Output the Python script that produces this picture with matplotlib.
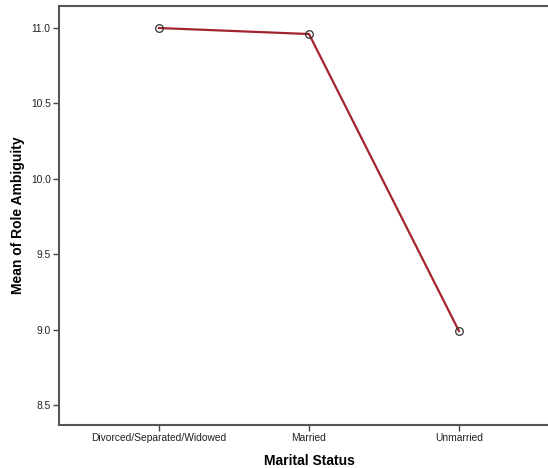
import matplotlib
matplotlib.use("Agg")
import matplotlib.pyplot as plt

categories = ["Divorced/Separated/Widowed", "Married", "Unmarried"]
means = [11.0, 10.96, 8.99]
y_ticks = [8.5, 9.0, 9.5, 10.0, 10.5, 11.0]

plt.rcParams["font.family"] = ["Liberation Sans", "DejaVu Sans"]

W, H, DPI = 548, 468, 100
fig = plt.figure(figsize=(W / DPI, H / DPI), dpi=DPI)
left, right, top, bottom = 59, 559, 6, 425
ax = fig.add_axes([left / W, 1 - bottom / H, (right - left) / W, (bottom - top) / H])

x = list(range(len(categories)))
ax.plot(x, means, color="#a3242e", linewidth=1.6, zorder=2)
ax.plot(x, means, linestyle="none", marker="o", markersize=5.5,
        markerfacecolor="none", markeredgecolor="#333333", markeredgewidth=0.9, zorder=3)

ax.set_xlim(-0.667, 2.667)
ax.set_ylim(8.367, 11.146)
ax.set_xticks(x)
ax.set_xticklabels(categories, fontsize=7.4, color="#222222")
ax.set_yticks(y_ticks)
ax.set_yticklabels([f"{v:.1f}" for v in y_ticks], fontsize=7.4, color="#222222")

for s in ax.spines.values():
    s.set_color("#555555")
    s.set_linewidth(1.5)
ax.tick_params(axis="both", direction="out", length=4, width=1, color="#444444", pad=2)

fig.text(309 / W, 1 - 461 / H, "Marital Status", fontsize=10, fontweight="bold",
         ha="center", va="center")
fig.text(18 / W, 1 - 215 / H, "Mean of Role Ambiguity", fontsize=10, fontweight="bold",
         ha="center", va="center", rotation=90)

fig.savefig("out.png", dpi=DPI)
